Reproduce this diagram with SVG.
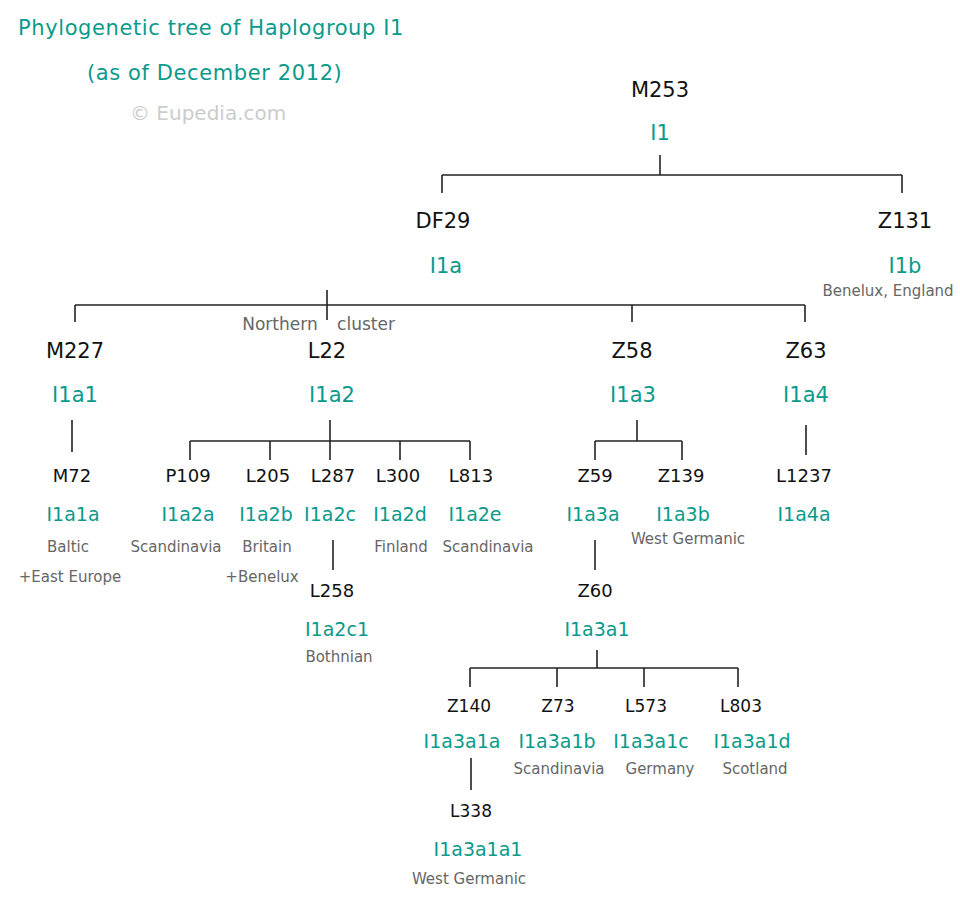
<svg xmlns="http://www.w3.org/2000/svg" width="960" height="897" viewBox="0 0 960 897">
<style>
text{font-family:"DejaVu Sans","Liberation Sans",sans-serif;text-anchor:middle}
.t{fill:#0a9a8c;font-size:21px;text-anchor:start;letter-spacing:0.6px}
.w{fill:#ccc;font-size:20px;text-anchor:start}
.b{fill:#111;font-size:21px}
.m{fill:#111;font-size:18px}
.s{fill:#111;font-size:17px}
.h{fill:#0a9a8c;font-size:21px}
.hm{fill:#0a9a8c;font-size:19px}
.g{fill:#666;font-size:15px}
.c line{stroke:#222;stroke-width:1.6}
</style>
<rect width="960" height="897" fill="#fff"/>
<text class="t" x="18" y="35">Phylogenetic tree of Haplogroup I1</text>
<text class="t" x="87" y="80">(as of December 2012)</text>
<text class="w" x="130" y="120">© Eupedia.com</text>
<g class="c" id="connectors">
<line x1="660" y1="155" x2="660" y2="175"/><line x1="442" y1="175" x2="902" y2="175"/>
<line x1="442" y1="175" x2="442" y2="193"/><line x1="902" y1="175" x2="902" y2="193"/>
<line x1="75" y1="305" x2="805" y2="305"/><line x1="327" y1="290" x2="327" y2="320"/>
<line x1="75" y1="305" x2="75" y2="322"/><line x1="632" y1="305" x2="632" y2="322"/><line x1="805" y1="305" x2="805" y2="322"/>
<line x1="72" y1="420" x2="72" y2="452"/>
<line x1="330" y1="420" x2="330" y2="441"/><line x1="190" y1="441" x2="470" y2="441"/>
<line x1="190" y1="441" x2="190" y2="460"/><line x1="270" y1="441" x2="270" y2="460"/><line x1="330" y1="441" x2="330" y2="460"/><line x1="400" y1="441" x2="400" y2="460"/><line x1="470" y1="441" x2="470" y2="460"/>
<line x1="333" y1="540" x2="333" y2="570"/>
<line x1="637" y1="420" x2="637" y2="441"/><line x1="595" y1="441" x2="682" y2="441"/>
<line x1="595" y1="441" x2="595" y2="460"/><line x1="682" y1="441" x2="682" y2="460"/>
<line x1="595" y1="540" x2="595" y2="570"/>
<line x1="806" y1="425" x2="806" y2="455"/>
<line x1="597" y1="650" x2="597" y2="668"/><line x1="470" y1="668" x2="738" y2="668"/>
<line x1="470" y1="668" x2="470" y2="687"/><line x1="557" y1="668" x2="557" y2="687"/><line x1="644" y1="668" x2="644" y2="687"/><line x1="738" y1="668" x2="738" y2="687"/>
<line x1="471" y1="758" x2="471" y2="790"/>
</g>
<g id="M253"><text class="b" x="660" y="97">M253</text><text class="h" x="660" y="140">I1</text></g>
<g id="DF29"><text class="b" x="443" y="228">DF29</text><text class="h" x="446" y="273">I1a</text></g>
<g id="Z131"><text class="b" x="905" y="228">Z131</text><text class="h" x="905" y="273">I1b</text><text class="g" x="888" y="296">Benelux, England</text></g>
<g id="cluster"><text class="g" x="280" y="330" style="font-size:17px">Northern</text><text class="g" x="366" y="330" style="font-size:17px">cluster</text></g>
<g id="M227"><text class="b" x="75" y="358">M227</text><text class="h" x="75" y="402">I1a1</text></g>
<g id="L22"><text class="b" x="327" y="358">L22</text><text class="h" x="332" y="402">I1a2</text></g>
<g id="Z58"><text class="b" x="632" y="358">Z58</text><text class="h" x="633" y="402">I1a3</text></g>
<g id="Z63"><text class="b" x="806" y="358">Z63</text><text class="h" x="806" y="402">I1a4</text></g>
<g id="M72"><text class="m" x="72" y="482">M72</text><text class="hm" x="73" y="521">I1a1a</text><text class="g" x="68" y="552">Baltic</text><text class="g" x="70" y="582">+East Europe</text></g>
<g id="P109"><text class="m" x="188" y="482">P109</text><text class="hm" x="188" y="521">I1a2a</text><text class="g" x="176" y="552">Scandinavia</text></g>
<g id="L205"><text class="m" x="268" y="482">L205</text><text class="hm" x="266" y="521">I1a2b</text><text class="g" x="267" y="552">Britain</text><text class="g" x="262" y="582">+Benelux</text></g>
<g id="L287"><text class="m" x="333" y="482">L287</text><text class="hm" x="330" y="521">I1a2c</text></g>
<g id="L300"><text class="m" x="398" y="482">L300</text><text class="hm" x="400" y="521">I1a2d</text><text class="g" x="401" y="552">Finland</text></g>
<g id="L813"><text class="m" x="471" y="482">L813</text><text class="hm" x="475" y="521">I1a2e</text><text class="g" x="488" y="552">Scandinavia</text></g>
<g id="L258"><text class="m" x="332" y="597">L258</text><text class="hm" x="337" y="636">I1a2c1</text><text class="g" x="339" y="662">Bothnian</text></g>
<g id="Z59"><text class="m" x="595" y="482">Z59</text><text class="hm" x="593" y="521">I1a3a</text></g>
<g id="Z139"><text class="m" x="681" y="482">Z139</text><text class="hm" x="683" y="521">I1a3b</text><text class="g" x="688" y="544">West Germanic</text></g>
<g id="Z60"><text class="m" x="595" y="597">Z60</text><text class="hm" x="597" y="636">I1a3a1</text></g>
<g id="L1237"><text class="m" x="804" y="482">L1237</text><text class="hm" x="804" y="521">I1a4a</text></g>
<g id="Z140"><text class="s" x="469" y="712">Z140</text><text class="hm" x="462" y="748">I1a3a1a</text></g>
<g id="Z73"><text class="s" x="558" y="712">Z73</text><text class="hm" x="557" y="748">I1a3a1b</text><text class="g" x="559" y="774">Scandinavia</text></g>
<g id="L573"><text class="s" x="646" y="712">L573</text><text class="hm" x="651" y="748">I1a3a1c</text><text class="g" x="660" y="774">Germany</text></g>
<g id="L803"><text class="s" x="741" y="712">L803</text><text class="hm" x="752" y="748">I1a3a1d</text><text class="g" x="755" y="774">Scotland</text></g>
<g id="L338"><text class="s" x="471" y="817">L338</text><text class="hm" x="478" y="856">I1a3a1a1</text><text class="g" x="469" y="884">West Germanic</text></g>
</svg>
